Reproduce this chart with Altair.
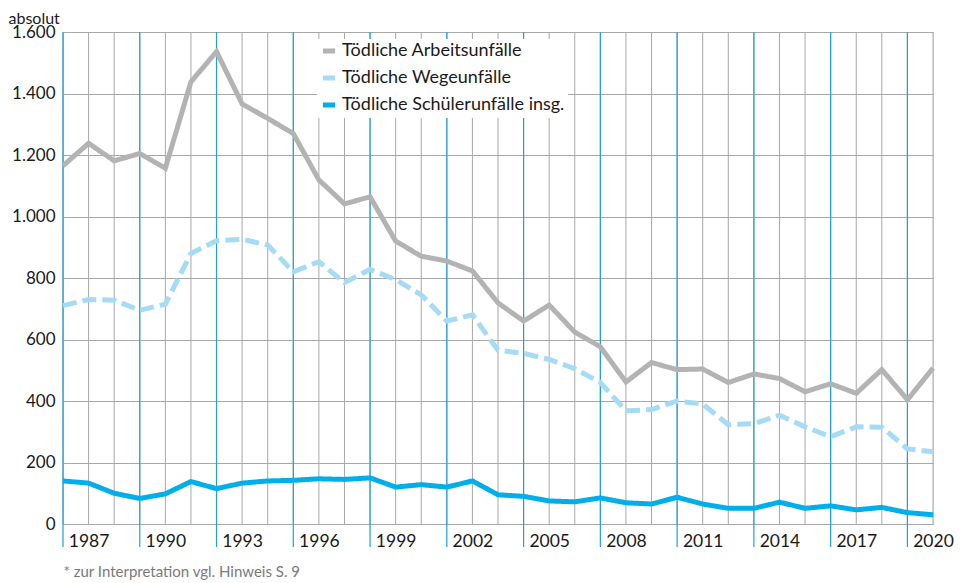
import altair as alt
import pandas as pd

years = list(range(1986, 2021))
label_years = list(range(1987, 2021, 3))
blue_years = list(range(1986, 2020, 3))
arbeit = [1165, 1238, 1181, 1205, 1157, 1438, 1536, 1366, 1319, 1270, 1119, 1041, 1064,
          920, 871, 855, 823, 719, 660, 712, 624, 576, 462, 525, 502, 504, 460, 488, 473,
          430, 456, 425, 502, 404, 507]
wege = [710, 730, 728, 695, 715, 880, 921, 926, 907, 820, 853, 785, 828,
        795, 745, 660, 680, 565, 555, 535, 505, 460, 368, 372, 400, 390, 323, 326, 354,
        316, 284, 316, 315, 244, 235]
schueler = [140, 133, 100, 83, 98, 138, 115, 133, 140, 142, 147, 145, 150,
            120, 128, 120, 140, 95, 90, 75, 72, 85, 69, 65, 87, 65, 51, 51, 71,
            51, 59, 46, 54, 37, 30]
series = ["Tödliche Arbeitsunfälle", "Tödliche Wegeunfälle", "Tödliche Schülerunfälle insg."]
colors = ["#b3b3b3", "#a6dbf5", "#00aeea"]
dashes = [[1, 0], [14, 6], [1, 0]]

rows = []
for name, vals in zip(series, [arbeit, wege, schueler]):
    for y, v in zip(years, vals):
        rows.append({"Jahr": y, "Wert": v, "Serie": name})
df = pd.DataFrame(rows)
grid_df = pd.DataFrame({"Jahr": years})
blue_df = pd.DataFrame({"Jahr": blue_years})

W, H = 870, 492
xscale = alt.Scale(domain=[1986, 2020], nice=False, zero=False)
yscale = alt.Scale(domain=[0, 1600], nice=False)
FONT = "Lato"

x_axis = alt.Axis(values=label_years, format="d", grid=False,
                  ticks=False, domain=True, domainColor="#a8a8a8",
                  labelFlush=False, labelOverlap=False, labelFontSize=17.5,
                  labelFont=FONT, labelColor="#1a1a1a", labelPadding=8,
                  title="* zur Interpretation vgl. Hinweis S. 9",
                  titleFont=FONT, titleFontSize=15, titleFontWeight="normal",
                  titleColor="#7a7a7a", titleAlign="left", titleAnchor="start",
                  titleX=0, titleY=52, titleBaseline="alphabetic")

gray_rules = alt.Chart(grid_df).mark_rule(color="#a8a8a8", strokeWidth=1).encode(
    x=alt.X("Jahr:Q", scale=xscale, axis=x_axis),
    y=alt.value(0),
    y2=alt.value(H),
)

blue_rules = alt.Chart(blue_df).mark_rule(color="#1ea0dd", strokeWidth=1.2).encode(
    x=alt.X("Jahr:Q", scale=xscale, axis=x_axis),
    y=alt.value(0),
    y2=alt.value(H + 23),
)

lines = alt.Chart(df).mark_line(strokeWidth=5).encode(
    x=alt.X("Jahr:Q", scale=xscale, axis=x_axis),
    y=alt.Y("Wert:Q", scale=yscale,
            axis=alt.Axis(values=list(range(0, 1601, 200)), grid=True, gridColor="#a8a8a8",
                          gridWidth=1, ticks=False, domain=False,
                          labelFontSize=17, labelFont=FONT, labelColor="#1a1a1a",
                          labelPadding=8, labelOverlap=False,
                          labelExpr="replace(format(datum.value, ','), ',', '.')",
                          title="absolut", titleAngle=0, titleFont=FONT, titleFontSize=16,
                          titleFontWeight="normal", titleColor="#1a1a1a",
                          titleAlign="left", titleX=-55, titleY=-9,
                          titleBaseline="alphabetic")),
    color=alt.Color("Serie:N", scale=alt.Scale(domain=series, range=colors),
                    sort=series,
                    legend=alt.Legend(orient="none", legendX=254, legendY=7, title=None,
                                      fillColor="white", padding=3,
                                      labelFont=FONT, labelFontSize=18, labelLimit=400,
                                      labelColor="#1a1a1a", symbolType="stroke",
                                      symbolStrokeWidth=5, symbolSize=150,
                                      rowPadding=7, labelOffset=4)),
    strokeDash=alt.StrokeDash("Serie:N", scale=alt.Scale(domain=series, range=dashes),
                              legend=None),
)

chart = alt.layer(gray_rules, blue_rules, lines).properties(
    width=W, height=H,
    autosize=alt.AutoSizeParams(type="none"),
    padding={"left": 55, "top": 24, "right": 24, "bottom": 58},
).configure_view(stroke=None).configure(background="white")

chart.save("out.html", embed_options={"renderer": "svg", "actions": False})
